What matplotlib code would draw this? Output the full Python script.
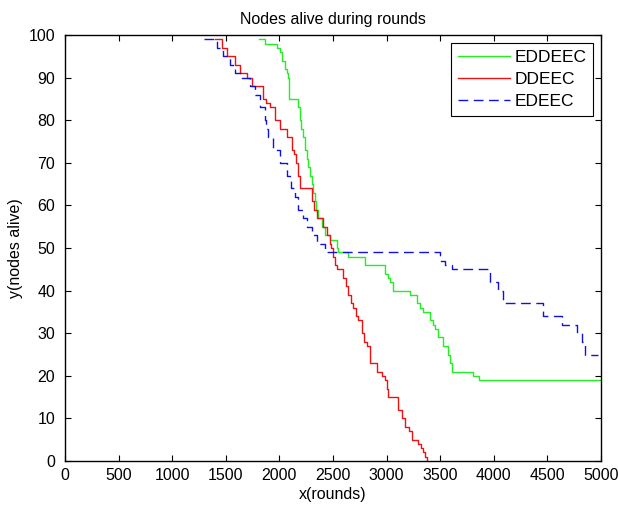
import matplotlib.pyplot as plt

plt.rcParams['font.family'] = ['Liberation Sans', 'DejaVu Sans']

# all three protocols start with 100 nodes alive; the lists begin at the
# round where the first node dies (the 100-level part sits under the frame)

# EDDEEC (green) - round where each level starts, nodes alive
eddeec_rounds = [1810, 1870, 1975, 2005, 2025, 2050, 2070, 2080, 2090, 2175, 2190, 2205,
                 2220, 2240, 2255, 2270, 2285, 2300, 2315, 2330, 2345, 2360, 2395, 2425,
                 2470, 2535, 2550, 2640, 2800, 2985, 3010, 3030, 3060, 3220, 3280, 3310,
                 3340, 3405, 3430, 3450, 3480, 3530, 3575, 3595, 3610, 3810, 3860, 5000]
eddeec_alive = [99, 98, 97, 96, 94, 92, 91, 90, 85, 83, 80, 78,
                76, 73, 71, 69, 67, 65, 63, 61, 59, 57, 55, 53,
                52, 50, 49, 48, 46, 44, 43, 42, 40, 39, 37, 36,
                35, 33, 32, 31, 29, 27, 25, 23, 21, 20, 19, 19]

# DDEEC (red)
ddeec_rounds = [1400, 1465, 1510, 1585, 1630, 1700, 1745, 1850, 1880, 1910, 1960, 2005,
                2070, 2115, 2140, 2160, 2175, 2190, 2300, 2325, 2350, 2410, 2440, 2470,
                2485, 2500, 2520, 2535, 2595, 2620, 2640, 2665, 2690, 2715, 2735, 2770,
                2790, 2815, 2845, 2910, 2960, 2985, 3005, 3015, 3105, 3140, 3170, 3205,
                3235, 3295, 3320, 3340, 3360, 3375, 3380]
ddeec_alive = [99, 97, 95, 93, 91, 90, 88, 85, 84, 83, 80, 78,
               76, 73, 72, 70, 67, 64, 61, 59, 57, 55, 53, 51,
               50, 48, 46, 45, 43, 41, 39, 37, 36, 34, 33, 30,
               28, 27, 23, 21, 20, 19, 17, 15, 12, 10, 8, 7,
               5, 4, 3, 2, 1, 0, 0]

# EDEEC (blue dashed)
edeec_rounds = [1300, 1420, 1475, 1540, 1585, 1650, 1725, 1770, 1820, 1865, 1880, 1895,
                1940, 2005, 2070, 2110, 2145, 2175, 2220, 2255, 2305, 2350, 2425, 3500,
                3545, 3610, 3685, 3965, 4040, 4085, 4460, 4635, 4775, 4820, 4850, 4970]
edeec_alive = [99, 97, 95, 93, 91, 90, 88, 86, 83, 80, 78, 76,
               73, 70, 67, 64, 62, 59, 57, 55, 53, 51, 49, 47,
               46, 45, 45, 42, 40, 37, 34, 32, 30, 28, 25, 25]

fig = plt.figure(figsize=(6.18, 5.08), dpi=100)
ax = fig.add_axes([0.105, 0.0925, 0.8675, 0.8385])

ax.plot(eddeec_rounds, eddeec_alive, drawstyle='steps-post', color='#22ee22', lw=1.0, label='EDDEEC')
ax.plot(ddeec_rounds, ddeec_alive, drawstyle='steps-post', color='#ee1111', lw=1.0, label='DDEEC')
ax.plot(edeec_rounds, edeec_alive, drawstyle='steps-post', color='#1111dd', lw=1.0,
        dashes=(7, 4), label='EDEEC')

for sp in ax.spines.values():
    sp.set_linewidth(1.0)
    sp.set_zorder(3)

ax.set_xlim(0, 5000)
ax.set_ylim(0, 100)
ax.set_xticks(range(0, 5001, 500))
ax.set_yticks(range(0, 101, 10))
ax.tick_params(direction='in', top=True, right=True, labelsize=11.5, length=4, width=0.8, pad=5)
ax.tick_params(axis='y', pad=7)
ax.set_title('Nodes alive during rounds', fontsize=11.5, pad=8)
ax.set_xlabel('x(rounds)', fontsize=11.5, labelpad=3)
ax.set_ylabel('y(nodes alive)', fontsize=11.5, labelpad=4)

leg = ax.legend(loc='upper right', fontsize=12.5, handlelength=3.0, handletextpad=0.25,
                fancybox=False, edgecolor='black', framealpha=1, borderaxespad=0.45,
                labelspacing=0.4, borderpad=0.4)
leg.get_frame().set_linewidth(0.8)

fig.savefig('out.png', dpi=100)
